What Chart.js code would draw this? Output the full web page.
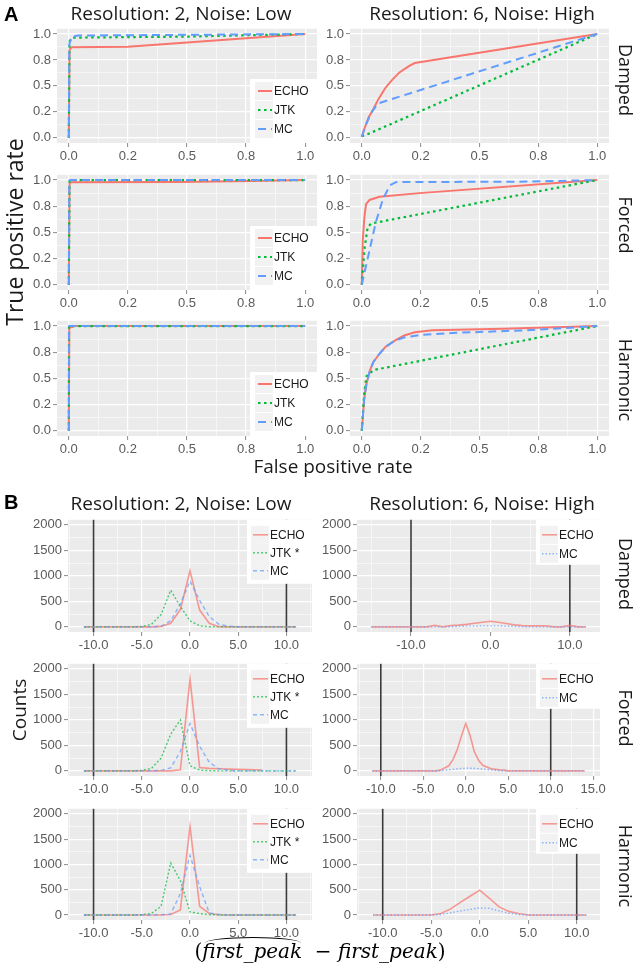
<!DOCTYPE html>
<html><head><meta charset="utf-8">
<script src="https://cdn.jsdelivr.net/npm/chart.js@4.4.1/dist/chart.umd.min.js"></script>
<style>
body{margin:0;background:#fff;}
#stage{position:relative;width:640px;height:969px;overflow:hidden;background:#fff;font-family:'Open Sans',sans-serif;color:#1a1a1a;}
.abs{position:absolute;white-space:nowrap;}
canvas{position:absolute;}
.tag{font-family:'Liberation Sans',Arial,sans-serif;font-weight:bold;font-size:20px;line-height:20px;color:#000;}
.title{font-size:19px;line-height:19px;width:320px;text-align:center;}
.strip{font-size:18px;line-height:24px;height:24px;width:140px;text-align:center;transform:rotate(90deg);}
.ylab{line-height:26px;height:26px;width:260px;text-align:center;transform:rotate(-90deg);}
.xlab{font-size:19px;line-height:19px;width:320px;text-align:center;}
.expr{font-family:'DejaVu Serif',serif;font-style:italic;font-size:20px;line-height:22px;width:640px;text-align:center;color:#000;}
.hat{position:relative;display:inline-block;}
.hat::before{content:'';position:absolute;left:3px;right:1px;top:-3px;height:5px;border-top:1.3px solid #000;border-radius:50% 50% 0 0 / 100% 100% 0 0;}
.up{font-style:normal;}
</style>
</head><body>
<div id="stage"></div>
<script>
// ---------------- DATA ----------------
// Section A: ROC curves, [false positive rate, true positive rate]
const rocDampedLowEcho = [[0,0],[0.003,0.85],[0.012,0.872],[0.25,0.878],[1,1]];
const rocDampedLowJtk  = [[0,0],[0.003,0.93],[0.015,0.965],[0.5,0.975],[1,1]];
const rocDampedLowMc   = [[0,0],[0.002,0.9],[0.012,0.975],[0.04,0.985],[1,1]];
const rocForcedLowEcho = [[0,0],[0.003,0.97],[0.012,0.98],[0.46,0.982],[0.78,0.99],[1,1]];
const rocForcedLowJtk  = [[0,0],[0.003,0.99],[0.01,1],[1,1]];
const rocForcedLowMc   = [[0,0],[0.002,0.995],[0.008,1],[1,1]];
const rocHarmonicLowEcho = [[0,0],[0.002,0.985],[0.015,0.99],[0.02,1],[1,1]];
const rocHarmonicLowJtk  = [[0,0],[0.001,1],[1,1]];
const rocHarmonicLowMc   = [[0,0],[0.001,1],[1,1]];
const rocDampedHighEcho = [[0,0.01],[0.01,0.08],[0.03,0.2],[0.05,0.28],[0.07,0.37],[0.1,0.48],[0.13,0.56],[0.16,0.63],[0.2,0.69],[0.225,0.72],[1,1]];
const rocDampedHighJtk  = [[0,0.015],[0.02,0.03],[1,1]];
const rocDampedHighMc   = [[0,0.01],[0.02,0.14],[0.04,0.24],[0.068,0.33],[1,1]];
const rocForcedHighEcho = [[0,0],[0.004,0.42],[0.011,0.64],[0.018,0.77],[0.033,0.81],[0.075,0.84],[0.245,0.875],[1,1]];
const rocForcedHighJtk  = [[0,0],[0.012,0.35],[0.025,0.55],[0.04,0.585],[1,1]];
const rocForcedHighMc   = [[0,0],[0.03,0.3],[0.06,0.6],[0.09,0.82],[0.12,0.95],[0.145,0.98],[0.7,0.985],[1,1]];
const rocHarmonicHighEcho = [[0,0],[0.01,0.3],[0.02,0.45],[0.035,0.58],[0.05,0.66],[0.077,0.74],[0.1,0.8],[0.14,0.86],[0.18,0.91],[0.225,0.94],[0.3,0.96],[0.6,0.975],[1,1]];
const rocHarmonicHighJtk  = [[0,0],[0.01,0.35],[0.02,0.52],[0.05,0.58],[1,1]];
const rocHarmonicHighMc   = [[0,0],[0.01,0.3],[0.02,0.45],[0.035,0.58],[0.05,0.66],[0.077,0.74],[0.1,0.8],[0.14,0.86],[0.18,0.89],[0.25,0.915],[0.4,0.935],[0.7,0.96],[1,1]];

// Section B: frequency polygons, [peak error, count]
const peakDampedLowEcho = [[-11,0],[-4,0],[-3,10],[-2,70],[-1,340],[0,1100],[1,330],[2,70],[3,5],[4,0],[11,0]];
const peakDampedLowJtk  = [[-11,0],[-6,0],[-5,8],[-4,50],[-3,240],[-2,720],[-1,400],[0,120],[1,20],[2,3],[3,0],[11,0]];
const peakDampedLowMc   = [[-11,0],[-4,0],[-3,10],[-2,120],[-1,450],[0,900],[1,520],[2,200],[3,50],[4,15],[5,4],[6,0],[11,0]];
const peakForcedLowEcho = [[-11,0],[-2,0],[-1,20],[0,1800],[1,65],[2,50],[3,42],[4,35],[5,30],[6,25],[7.5,18]];
const peakForcedLowJtk  = [[-11,0],[-6,0],[-5,10],[-4,50],[-3,250],[-2,720],[-1,1000],[0,100],[1,15],[2,5],[3,0],[11,0]];
const peakForcedLowMc   = [[-11,0],[-4,0],[-3,10],[-2,60],[-1,380],[0,930],[1,480],[2,170],[3,40],[4,10],[5,0],[11,0]];
const peakHarmonicLowEcho = [[-11,0],[-3,0],[-2,10],[-1,100],[0,1750],[1,170],[2,30],[3,5],[4,0],[11,0]];
const peakHarmonicLowJtk  = [[-11,0],[-6,0],[-5,5],[-4,30],[-3,170],[-2,1030],[-1,680],[0,60],[1,25],[2,5],[3,0],[11,0]];
const peakHarmonicLowMc   = [[-11,0],[-4,0],[-3,5],[-2,20],[-1,420],[0,1180],[1,560],[2,40],[3,10],[4,0],[11,0]];
const peakDampedHighEcho = [[-15,0],[-8,0],[-7,30],[-6,0],[-5,25],[-4,35],[-3,50],[-2,70],[-1,90],[0,110],[1,90],[2,65],[3,40],[4,25],[5,20],[6,20],[7,20],[8,0],[9,0],[10,30],[11,0],[12,0]];
const peakDampedHighMc   = [[-15,0],[-6,0],[-5,5],[-4,10],[-3,15],[-2,15],[-1,20],[0,20],[1,20],[2,15],[3,10],[4,5],[5,0],[12,0]];
const peakForcedHighEcho = [[-11,0],[-3.5,0],[-3,15],[-2,100],[-1.5,220],[-1,420],[-0.5,690],[0,930],[0.5,700],[1,380],[1.5,210],[2,110],[3,40],[4,20],[4.5,15],[5,0],[14,0]];
const peakForcedHighMc   = [[-11,0],[-4,0],[-3,5],[-2,20],[-1,40],[0,55],[1,50],[2,35],[3,20],[4,5],[5,0],[14,0]];
const peakHarmonicHighEcho = [[-11,0],[-5,0],[-4,30],[-3,120],[-2,250],[-1,370],[0,490],[1,330],[2,160],[3,70],[4,30],[5,0],[11,0]];
const peakHarmonicHighMc   = [[-11,0],[-5,0],[-4,10],[-3,40],[-2,80],[-1,110],[0,140],[1,130],[2,80],[3,30],[4,10],[5,0],[11,0]];

// Reference lines and ticks
const vlinePositions = [-10, 10];
const rocTickValues = [0, 0.25, 0.5, 0.75, 1];
const rocTickLabels = ['0.0', '0.2', '0.5', '0.8', '1.0'];
const rocMinorTicks = [0.125, 0.375, 0.625, 0.875];
const countTickValues = [0, 500, 1000, 1500, 2000];
const countTickLabels = ['0', '500', '1000', '1500', '2000'];
const countMinorTicks = [250, 750, 1250, 1750];
const peakTickValues = [-10, -5, 0, 5, 10];
const peakTickLabels = ['-10.0', '-5.0', '0.0', '5.0', '10.0'];
const peakMinorTicks = [-12.5, -7.5, -2.5, 2.5, 7.5, 12.5];
const peakDampedHighTickValues = [-10, 0, 10];
const peakDampedHighTickLabels = ['-10.0', '0.0', '10.0'];
const peakDampedHighMinorTicks = [-15, -5, 5];
const peakForcedHighTickValues = [-10, -5, 0, 5, 10, 15];
const peakForcedHighTickLabels = ['-10.0', '-5.0', '0.0', '5.0', '10.0', '15.0'];
const peakForcedHighMinorTicks = [-12.5, -7.5, -2.5, 2.5, 7.5, 12.5];
const methodsAll = ['ECHO', 'JTK', 'MC'];
const methodsB = ['ECHO', 'JTK *', 'MC'];
const methodsBHigh = ['ECHO', 'MC'];

// ---------------- STYLE ----------------
const stage = document.getElementById('stage');
const AXW = 52, AXH = 22, PADT = 8, PADR = 10;
const TICK_FONT = {family: "'Liberation Sans', Arial, sans-serif", size: 13};
const styleA = {
  ECHO: {c: '#F8766D', w: 2, d: []},
  JTK: {c: '#00BA38', w: 2.2, d: [2.5, 3.5]},
  MC: {c: '#619CFF', w: 2, d: [8, 5]}
};
const styleB = {
  ECHO: {c: 'rgba(248,118,109,0.72)', w: 1.6, d: []},
  JTK: {c: 'rgba(0,186,56,0.7)', w: 1.4, d: [2, 2]},
  MC: {c: 'rgba(97,156,255,0.7)', w: 1.4, d: [4, 3]},
  MCdot: {c: 'rgba(97,156,255,0.75)', w: 1.4, d: [1.5, 2]}
};

function buildTicks(values, labels, minors) {
  const t = values.map((v, i) => ({value: v, isMajor: true, lbl: labels[i]}))
    .concat(minors.map(v => ({value: v, isMajor: false, lbl: ''})));
  t.sort((a, b) => a.value - b.value);
  return t;
}

function axis(min, max, values, labels, minors, isX) {
  return {
    type: 'linear', min: min, max: max, bounds: 'data',
    afterBuildTicks: s => { s.ticks = buildTicks(values, labels, minors); },
    afterFit: s => { if (isX) s.height = AXH; else s.width = AXW; },
    border: {display: false},
    grid: {
      color: '#FFFFFF',
      lineWidth: c => (c.tick && c.tick.isMajor) ? 1.2 : 0.55,
      drawTicks: true, tickLength: 4, tickWidth: 1,
      tickColor: c => (c.tick && c.tick.isMajor) ? '#8a8a8a' : 'rgba(0,0,0,0)'
    },
    ticks: {
      autoSkip: false, maxRotation: 0, minRotation: 0, padding: 2,
      color: '#5a5a5a', font: TICK_FONT,
      callback: (v, i, ticks) => ticks[i].lbl
    }
  };
}

function makeDeco(cfg) {
  return {
    id: 'deco',
    beforeDraw(chart) {
      const a = chart.chartArea, ctx = chart.ctx;
      ctx.save(); ctx.fillStyle = '#EBEBEB';
      ctx.fillRect(a.left, a.top, a.right - a.left, a.bottom - a.top); ctx.restore();
    },
    beforeDatasetsDraw(chart) {
      if (!cfg.vlines) return;
      const a = chart.chartArea, ctx = chart.ctx, xs = chart.scales.x;
      ctx.save(); ctx.strokeStyle = 'rgba(25,25,25,0.85)'; ctx.lineWidth = 1.6;
      cfg.vlines.forEach(v => {
        const px = xs.getPixelForValue(v);
        ctx.beginPath(); ctx.moveTo(px, a.top); ctx.lineTo(px, a.bottom); ctx.stroke();
      });
      ctx.restore();
    },
    afterDatasetsDraw(chart) {
      const lg = cfg.legend; if (!lg) return;
      const a = chart.chartArea, ctx = chart.ctx;
      const left = a.right - lg.w;
      const top = lg.anchor === 'bottom' ? a.bottom - lg.h : a.top;
      ctx.save();
      ctx.fillStyle = '#FFFFFF'; ctx.fillRect(left, top, lg.w, lg.h);
      lg.labels.forEach((lab, i) => {
        const ds = chart.data.datasets[i];
        const y = top + lg.rows[i];
        ctx.fillStyle = '#F2F2F2';
        ctx.fillRect(left + lg.keyBg[0], y - 9, lg.keyBg[1], 18);
        ctx.strokeStyle = ds.borderColor; ctx.lineWidth = ds.borderWidth;
        ctx.setLineDash(ds.borderDash || []);
        ctx.beginPath(); ctx.moveTo(left + lg.key[0], y); ctx.lineTo(left + lg.key[1], y); ctx.stroke();
        ctx.setLineDash([]);
        ctx.fillStyle = '#1a1a1a'; ctx.font = "12px 'Liberation Sans', Arial, sans-serif";
        ctx.textBaseline = 'middle'; ctx.textAlign = 'left';
        ctx.fillText(lab, left + lg.textX, y + 0.5);
      });
      ctx.restore();
    }
  };
}

function panel(cfg) {
  const c = document.createElement('canvas');
  const W = cfg.R - cfg.L + AXW + PADR, H = cfg.B - cfg.T + PADT + AXH;
  c.width = W; c.height = H;
  c.style.left = (cfg.L - AXW) + 'px'; c.style.top = (cfg.T - PADT) + 'px';
  c.style.width = W + 'px'; c.style.height = H + 'px';
  stage.appendChild(c);
  const n = cfg.series.length;
  new Chart(c, {
    type: 'line',
    data: {
      datasets: cfg.series.map((s, i) => ({
        label: s.name,
        data: s.data.map(p => ({x: p[0], y: p[1]})),
        borderColor: s.st.c, borderWidth: s.st.w, borderDash: s.st.d,
        borderCapStyle: 'butt', pointRadius: 0, tension: 0, fill: false,
        order: n - i
      }))
    },
    options: {
      responsive: false, animation: false, devicePixelRatio: 1,
      layout: {padding: {top: PADT, right: PADR, left: 0, bottom: 0}, autoPadding: false},
      plugins: {legend: {display: false}, tooltip: {enabled: false}},
      scales: {
        x: axis(cfg.xr[0], cfg.xr[1], cfg.xt[0], cfg.xt[1], cfg.xt[2], true),
        y: axis(cfg.yr[0], cfg.yr[1], cfg.yt[0], cfg.yt[1], cfg.yt[2], false)
      }
    },
    plugins: [makeDeco(cfg)]
  });
}

// ---------------- PANELS ----------------
const rocT = [rocTickValues, rocTickLabels, rocMinorTicks];
const cntT = [countTickValues, countTickLabels, countMinorTicks];
const rocR = [-0.05, 1.05];
const cntR = [-100, 2100];
const legA = {anchor: 'bottom', w: 67, h: 64, rows: [12, 31, 50], keyBg: [5, 18], key: [8, 22], textX: 24, labels: methodsAll};
const legB = {anchor: 'top', w: 65, h: 64, rows: [15, 33, 51], keyBg: [4, 18], key: [6, 21], textX: 23, labels: methodsB};
const legB2 = {anchor: 'top', w: 64, h: 45, rows: [15, 34], keyBg: [4, 18], key: [6, 21], textX: 23, labels: methodsBHigh};
const rowsA = [[27, 143], [173, 290], [319, 436]];
const rowsB = [[518, 632], [662, 776], [807, 920]];

const aLeft = [[rocDampedLowEcho, rocDampedLowJtk, rocDampedLowMc],
               [rocForcedLowEcho, rocForcedLowJtk, rocForcedLowMc],
               [rocHarmonicLowEcho, rocHarmonicLowJtk, rocHarmonicLowMc]];
const aRight = [[rocDampedHighEcho, rocDampedHighJtk, rocDampedHighMc],
                [rocForcedHighEcho, rocForcedHighJtk, rocForcedHighMc],
                [rocHarmonicHighEcho, rocHarmonicHighJtk, rocHarmonicHighMc]];
aLeft.forEach((s, r) => panel({L: 57, R: 317, T: rowsA[r][0], B: rowsA[r][1], xr: rocR, yr: rocR, xt: rocT, yt: rocT,
  legend: legA,
  series: [{name: 'ECHO', data: s[0], st: styleA.ECHO}, {name: 'JTK', data: s[1], st: styleA.JTK}, {name: 'MC', data: s[2], st: styleA.MC}]}));
aRight.forEach((s, r) => panel({L: 350, R: 609, T: rowsA[r][0], B: rowsA[r][1], xr: rocR, yr: rocR, xt: rocT, yt: rocT,
  series: [{name: 'ECHO', data: s[0], st: styleA.ECHO}, {name: 'JTK', data: s[1], st: styleA.JTK}, {name: 'MC', data: s[2], st: styleA.MC}]}));

const bLeft = [[peakDampedLowEcho, peakDampedLowJtk, peakDampedLowMc],
               [peakForcedLowEcho, peakForcedLowJtk, peakForcedLowMc],
               [peakHarmonicLowEcho, peakHarmonicLowJtk, peakHarmonicLowMc]];
bLeft.forEach((s, r) => panel({L: 68, R: 312, T: rowsB[r][0], B: rowsB[r][1], xr: [-12.65, 12.65], yr: cntR,
  xt: [peakTickValues, peakTickLabels, peakMinorTicks], yt: cntT, legend: legB, vlines: vlinePositions,
  series: [{name: 'ECHO', data: s[0], st: styleB.ECHO}, {name: 'JTK *', data: s[1], st: styleB.JTK}, {name: 'MC', data: s[2], st: styleB.MC}]}));

const bRight = [
  {s: [peakDampedHighEcho, peakDampedHighMc], xr: [-16.8, 13.8], xt: [peakDampedHighTickValues, peakDampedHighTickLabels, peakDampedHighMinorTicks]},
  {s: [peakForcedHighEcho, peakForcedHighMc], xr: [-12.8, 15.8], xt: [peakForcedHighTickValues, peakForcedHighTickLabels, peakForcedHighMinorTicks]},
  {s: [peakHarmonicHighEcho, peakHarmonicHighMc], xr: [-12.65, 12.4], xt: [peakTickValues, peakTickLabels, peakMinorTicks]}
];
bRight.forEach((p, r) => panel({L: 357, R: 600, T: rowsB[r][0], B: rowsB[r][1], xr: p.xr, yr: cntR,
  xt: p.xt, yt: cntT, legend: legB2, vlines: vlinePositions,
  series: [{name: 'ECHO', data: p.s[0], st: styleB.ECHO}, {name: 'MC', data: p.s[1], st: styleB.MCdot}]}));

// ---------------- TEXT ----------------
function txt(cls, html, left, top, extra) {
  const d = document.createElement('div');
  d.className = 'abs ' + cls; d.innerHTML = html;
  d.style.left = left + 'px'; d.style.top = top + 'px';
  if (extra) Object.assign(d.style, extra);
  stage.appendChild(d);
}
txt('tag', 'A', 4, 4);
txt('tag', 'B', 4, 492);
txt('title', 'Resolution: 2, Noise: Low', 181 - 160, 4);
txt('title', 'Resolution: 6, Noise: High', 482 - 160, 4);
txt('title', 'Resolution: 2, Noise: Low', 181 - 160, 494);
txt('title', 'Resolution: 6, Noise: High', 482 - 160, 494);
const stripCenters = [['Damped', 80], ['Forced', 225], ['Harmonic', 380], ['Damped', 574], ['Forced', 718], ['Harmonic', 866]];
stripCenters.forEach(s => txt('strip', s[0], 626 - 70, s[1] - 12));
txt('ylab', 'True positive rate', 14 - 130, 232 - 13, {fontSize: '23px'});
txt('ylab', 'Counts', 19 - 130, 710 - 13, {fontSize: '19px'});
txt('xlab', 'False positive rate', 333 - 160, 457);
txt('expr', '<span class="up">(</span><span class="hat">first_peak</span>&nbsp;&nbsp;<span class="up">−</span> first_peak<span class="up">)</span>', 0, 940);
</script>
</body></html>
